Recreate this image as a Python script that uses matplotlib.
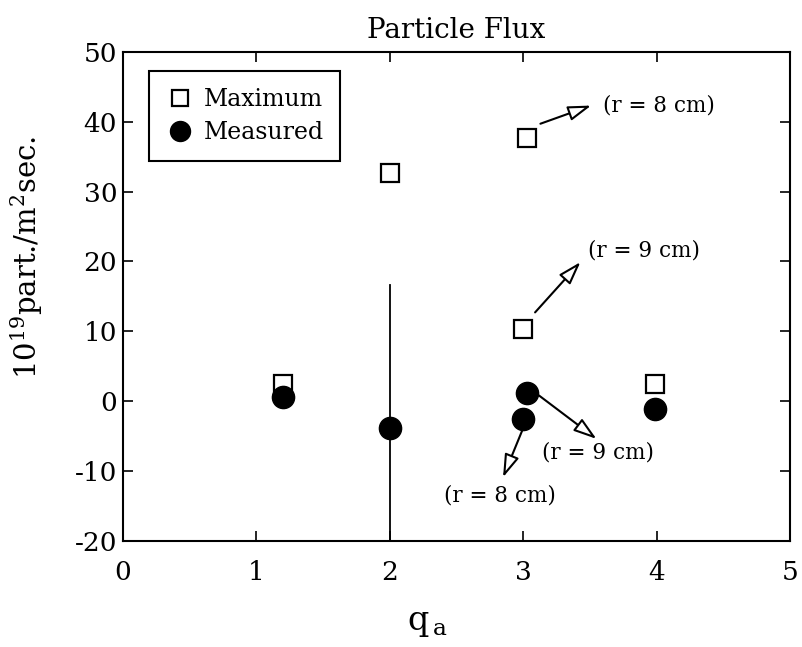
import matplotlib
matplotlib.use("Agg")
import matplotlib.pyplot as plt
from matplotlib.patches import FancyArrowPatch
import numpy as np

plt.rcParams['font.family'] = 'DejaVu Serif'
plt.rcParams['mathtext.fontset'] = 'dejavuserif'
plt.rcParams['axes.unicode_minus'] = False

# maximum and measured particle flux vs q_a
q_max = [1.2, 2.0, 3.03, 3.0, 3.99]
flux_max = [2.5, 32.7, 37.7, 10.3, 2.5]
q_meas = [1.2, 2.0, 3.03, 3.0, 3.99]
flux_meas = [0.6, -3.9, 1.2, -2.6, -1.1]

# error bar on the q=2 point
err_x = [2.0, 2.0]
err_y = [-22.0, 16.6]

# radius notes: (tail, tip, label position, text)
notes = [
    ((3.13, 39.7), (3.51, 42.3), (3.60, 42.3), "(r = 8 cm)"),
    ((3.09, 12.7), (3.43, 19.9), (3.49, 21.6), "(r = 9 cm)"),
    ((3.12, 0.8), (3.55, -5.4), (3.14, -7.4), "(r = 9 cm)"),
    ((3.00, -3.9), (2.85, -10.9), (2.41, -13.5), "(r = 8 cm)"),
]

fig = plt.figure(figsize=(8.02, 6.47), dpi=100)
ax = fig.add_axes([0.153, 0.164, 0.832, 0.756])

ax.plot(err_x, err_y, color='black', linewidth=1.3, clip_on=True)
ax.plot(q_max, flux_max, linestyle='none', marker='s', markersize=12.5,
        markerfacecolor='white', markeredgecolor='black', markeredgewidth=1.6,
        label='Maximum', zorder=3)
ax.plot(q_meas, flux_meas, linestyle='none', marker='o', markersize=16,
        color='black', label='Measured', zorder=4)

for tail, tip, pos, txt in notes:
    arr = FancyArrowPatch(tail, tip, arrowstyle='-|>,head_length=14,head_width=4.5',
                          facecolor='white', edgecolor='black', linewidth=1.5,
                          shrinkA=0, shrinkB=0, zorder=5)
    ax.add_patch(arr)
    ax.text(pos[0], pos[1], txt, fontsize=15.5, ha='left', va='center')

ax.set_xlim(0, 5)
ax.set_ylim(-20, 50)
ax.set_xticks(np.arange(0, 6, 1))
ax.set_yticks(np.arange(-20, 60, 10))
ax.tick_params(direction='in', top=True, right=True, labelsize=19,
               length=7, width=1.2)
ax.tick_params(axis='x', pad=14)
ax.tick_params(axis='y', pad=4)
for s in ax.spines.values():
    s.set_linewidth(1.5)

ax.set_title('Particle Flux', fontsize=20, pad=10)
ax.set_xlabel(r'q$_{\,\mathrm{a}}$', fontsize=24)
ax.set_ylabel(r'10$^{19}$part./m$^2$sec.', fontsize=21)
ax.xaxis.set_label_coords(0.457, -0.135)
ax.yaxis.set_label_coords(-0.117, 0.58)

leg = ax.legend(loc='upper left', bbox_to_anchor=(0.04, 0.96), borderaxespad=0,
                fontsize=17, fancybox=False, edgecolor='black', framealpha=1,
                handletextpad=0.4, borderpad=0.7, labelspacing=0.45,
                handlelength=1.2, markerscale=0.9)
leg.get_frame().set_linewidth(1.5)

fig.savefig('out.png', dpi=100)
